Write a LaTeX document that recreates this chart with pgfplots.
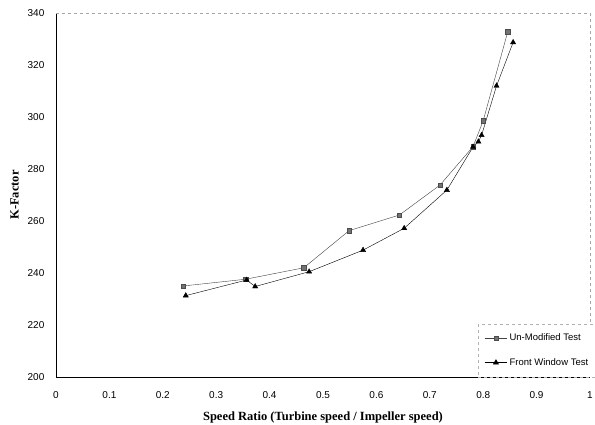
\documentclass[border=0pt]{standalone}
\usepackage{pgfplots}
\pgfplotsset{compat=1.18}
\usepackage{fontspec}
\setmainfont{Liberation Serif}
\newfontfamily\arial{Liberation Sans}
\begin{document}
\begin{tikzpicture}
\useasboundingbox (-56pt,-48pt) rectangle (539pt,377pt);
\begin{axis}[
  at={(0,0)}, anchor=south west,
  scale only axis, width=534pt, height=364pt,
  xmin=0, xmax=1, ymin=200, ymax=340,
  xtick={0,0.1,...,1.0}, ytick={200,220,...,340},
  xticklabels={0,0.1,0.2,0.3,0.4,0.5,0.6,0.7,0.8,0.9,1},
  axis lines=left, axis line style={-, black, thin},
  tick style={draw=none},
  tick label style={font=\arial\fontsize{10}{12}\selectfont},
  /pgf/number format/assume math mode=true,
  xticklabel style={yshift=-9pt},
  yticklabel style={xshift=-6pt},
  xlabel={\bfseries Speed Ratio (Turbine speed / Impeller speed)},
  ylabel={\bfseries K-Factor},
  label style={font=\fontsize{12.5}{14}\selectfont},
  xlabel style={yshift=-6pt},
  ylabel style={yshift=2pt},
  legend style={at={(rel axis cs:1.012,0)}, anchor=south east, draw=gray!60, dashed,
    fill=white, font=\arial\fontsize{9.5}{11}\selectfont, row sep=12pt,
    inner xsep=6pt, inner ysep=8pt, legend cell align=left},
  legend image code/.code={%
    \draw[mark repeat=2,mark phase=2] plot coordinates {(0cm,0cm) (0.4cm,0cm) (0.8cm,0cm)};},
  legend image post style={solid},
  clip=false,
]
\draw[gray!70, dashed, thin] (rel axis cs:0,1) -- (rel axis cs:1,1) -- (rel axis cs:1,0);
\addplot[black!75, thin, mark=square*, mark size=2.2pt, mark options={fill=black!55, draw=black!70, solid}]
  coordinates {(0.238,235.0) (0.355,237.6) (0.464,242.0) (0.549,256.3) (0.643,262.3)
   (0.719,273.8) (0.781,288.6) (0.800,298.6) (0.846,332.8)};
\addlegendentry{Un-Modified Test}
\addplot[black, thin, mark=triangle*, mark size=3pt, mark options={fill=black, solid}]
  coordinates {(0.243,231.3) (0.357,237.3) (0.373,234.8) (0.474,240.5) (0.575,248.8)
   (0.652,257.2) (0.732,271.9) (0.781,288.5) (0.791,290.5) (0.797,293.0) (0.825,312.0) (0.856,328.7)};
\addlegendentry{Front Window Test}
\end{axis}
\end{tikzpicture}
\end{document}
